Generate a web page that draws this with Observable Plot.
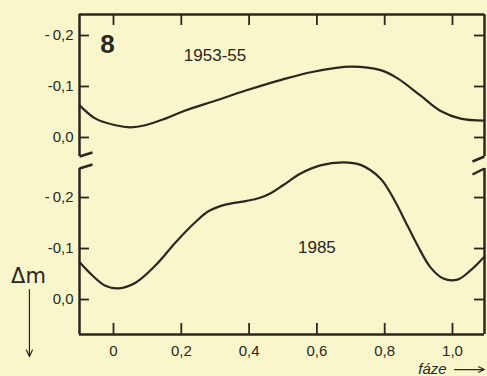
<!DOCTYPE html>
<html><head><meta charset="utf-8">
<script src="https://cdn.jsdelivr.net/npm/d3@7"></script>
<script src="https://cdn.jsdelivr.net/npm/@observablehq/plot@0.6"></script>
<style>
html,body{margin:0;padding:0;background:#f9f6cb;}
#chart{width:487px;height:376px;overflow:hidden;position:relative;}
#chart svg{display:block;background:transparent !important;overflow:visible;}
</style></head><body><div id="chart"></div>
<script>
// Data
const phase1953 = [-0.1, -0.053, 0.006, 0.05, 0.094, 0.153, 0.212, 0.30, 0.39, 0.50, 0.59, 0.70, 0.788, 0.838, 0.906, 0.965, 1.024, 1.094];
const dm1953    = [-0.063, -0.037, -0.024, -0.020, -0.024, -0.037, -0.053, -0.072, -0.092, -0.114, -0.129, -0.139, -0.132, -0.116, -0.082, -0.052, -0.037, -0.033];
const phase1985 = [-0.1, -0.062, -0.024, 0.015, 0.065, 0.124, 0.183, 0.242, 0.28, 0.33, 0.39, 0.43, 0.465, 0.50, 0.552, 0.61, 0.678, 0.729, 0.788, 0.826, 0.867, 0.897, 0.935, 0.973, 1.015, 1.053, 1.094];
const dm1985    = [-0.073, -0.047, -0.027, -0.022, -0.033, -0.067, -0.112, -0.152, -0.173, -0.186, -0.193, -0.199, -0.209, -0.224, -0.247, -0.263, -0.269, -0.264, -0.237, -0.198, -0.145, -0.106, -0.063, -0.041, -0.039, -0.057, -0.084];
const xTicks = [0, 0.2, 0.4, 0.6, 0.8, 1.0];
const xTickLabels = ["0", "0,2", "0,4", "0,6", "0,8", "1,0"];
const yTicks = [-0.2, -0.1, 0];
const yTickLabels = ["-\u20090,2", "-0,1", "0,0"];
const panelLabels = ["1953-55", "1985"];
const figureNumber = "8";
const yAxisLabel = "Δm";
const xAxisLabel = "fáze";

const ink = "#2a2721";
const font = "'Liberation Sans', Arial, sans-serif";
const W = 487, mL = 79, mR = 3, innerW = W - mL - mR;
const xDomain = [-0.1003, 1.0944];
const kx = (xDomain[1] - xDomain[0]) / innerW;
const rows = (px, py) => px.map((x, i) => ({phase: x, dm: py[i]}));
const fmtX = d => xTickLabels[xTicks.findIndex(t => Math.abs(t - d) < 1e-9)];
const fmtY = d => yTickLabels[yTicks.findIndex(t => Math.abs(t - d) < 1e-9)];
const sw = 2.5;
const plotStyle = {color: ink, background: "transparent", fontFamily: font, fontSize: "15px"};

// ---- top panel
const topH = 160, topMT = 14, topMB = 4, topInner = topH - topMT - topMB;
const yTopDom = [0.0373, -0.2412];
const kyT = (yTopDom[0] - yTopDom[1]) / topInner;
const topPlot = Plot.plot({
  width: W, height: topH, marginTop: topMT, marginBottom: topMB, marginLeft: mL, marginRight: mR,
  style: plotStyle,
  x: {domain: xDomain, axis: null},
  y: {domain: yTopDom, axis: null},
  marks: [
    Plot.ruleY([yTopDom[1]], {stroke: ink, strokeWidth: sw}),
    Plot.ruleX(xDomain, {stroke: ink, strokeWidth: sw}),
    Plot.tickX(xTicks, {x: d => d, stroke: ink, strokeWidth: 1.8, insetBottom: topInner - 11}),
    Plot.tickY(yTicks, {y: d => d, stroke: ink, strokeWidth: 1.8, insetRight: innerW - 10}),
    Plot.tickY(yTicks, {y: d => d, stroke: ink, strokeWidth: 1.8, insetLeft: innerW - 10}),
    Plot.axisY({ticks: yTicks, tickFormat: fmtY, tickSize: 0, tickPadding: 6, fontSize: 15, fill: ink, label: null}),
    Plot.line(rows(phase1953, dm1953), {x: "phase", y: "dm", curve: "catmull-rom", stroke: ink, strokeWidth: 2.2}),
    Plot.text([figureNumber], {x: () => -0.0177, y: () => -0.1818, text: d => d, fontSize: 26, fontWeight: 900, fill: ink}),
    Plot.text([panelLabels[0]], {x: () => 0.2994, y: () => -0.1616, text: d => d, fontSize: 17, fill: ink}),
    Plot.link([0], {x1: () => xDomain[0], y1: () => yTopDom[0], x2: () => xDomain[0] + 13 * kx, y2: () => yTopDom[0] - 4 * kyT, stroke: ink, strokeWidth: sw}),
    Plot.link([0], {x1: () => xDomain[1], y1: () => yTopDom[0], x2: () => xDomain[1] - 12 * kx, y2: () => yTopDom[0] + 5 * kyT, stroke: ink, strokeWidth: sw})
  ]
});

// ---- bottom panel
const botH = 216, botMT = 8, botMB = 42, botInner = botH - botMT - botMB;
const yBotDom = [0.0686, -0.2569];
const kyB = (yBotDom[0] - yBotDom[1]) / botInner;
const bottomPlot = Plot.plot({
  width: W, height: botH, marginTop: botMT, marginBottom: botMB, marginLeft: mL, marginRight: mR,
  style: plotStyle,
  x: {domain: xDomain},
  y: {domain: yBotDom},
  marks: [
    Plot.ruleY([yBotDom[0]], {stroke: ink, strokeWidth: sw}),
    Plot.ruleX(xDomain, {stroke: ink, strokeWidth: sw}),
    Plot.tickX(xTicks, {x: d => d, stroke: ink, strokeWidth: 1.8, insetTop: botInner - 11}),
    Plot.tickY(yTicks, {y: d => d, stroke: ink, strokeWidth: 1.8, insetRight: innerW - 10}),
    Plot.tickY(yTicks, {y: d => d, stroke: ink, strokeWidth: 1.8, insetLeft: innerW - 10}),
    Plot.axisY({ticks: yTicks, tickFormat: fmtY, tickSize: 0, tickPadding: 6, fontSize: 15, fill: ink, label: null}),
    Plot.axisX({ticks: xTicks, tickFormat: fmtX, tickSize: 0, tickPadding: 11, fontSize: 15, fill: ink, label: null}),
    Plot.line(rows(phase1985, dm1985), {x: "phase", y: "dm", curve: "catmull-rom", stroke: ink, strokeWidth: 2.2}),
    Plot.text([panelLabels[1]], {x: () => 0.600, y: () => -0.1027, text: d => d, fontSize: 17, fill: ink}),
    Plot.link([0], {x1: () => xDomain[0], y1: () => yBotDom[1], x2: () => xDomain[0] + 13 * kx, y2: () => yBotDom[1] - 4 * kyB, stroke: ink, strokeWidth: sw}),
    Plot.link([0], {x1: () => xDomain[1], y1: () => yBotDom[1], x2: () => xDomain[1] - 12 * kx, y2: () => yBotDom[1] + 6 * kyB, stroke: ink, strokeWidth: sw}),
    Plot.text([yAxisLabel], {x: () => -0.2507, y: () => -0.0465, text: d => d, fontSize: 21, fill: ink, fontFamily: "'DejaVu Sans', sans-serif"}),
    Plot.arrow([0], {x1: () => -0.248, y1: () => -0.0196, x2: () => -0.248, y2: () => 0.1118, stroke: ink, strokeWidth: 1.2, headLength: 9, headAngle: 50}),
    Plot.text([xAxisLabel], {x: () => 0.941, y: () => 0.1373, text: d => d, fontSize: 15, fontStyle: "italic", fill: ink}),
    Plot.arrow([0], {x1: () => 1.006, y1: () => 0.1373, x2: () => 1.094, y2: () => 0.1373, stroke: ink, strokeWidth: 1.2, headLength: 8, headAngle: 50})
  ]
});

const chart = document.getElementById("chart");
chart.appendChild(topPlot);
chart.appendChild(bottomPlot);
</script>
</body></html>
